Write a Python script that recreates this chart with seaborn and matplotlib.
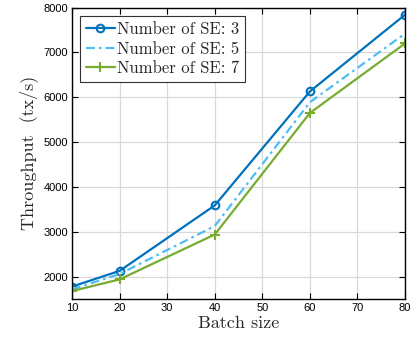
import pandas as pd
import matplotlib
matplotlib.use("Agg")
import matplotlib.pyplot as plt
import seaborn as sns

batch_size = [10, 20, 40, 60, 80]
tput_se3 = [1780, 2130, 3590, 6130, 7840]
tput_se5 = [1720, 2060, 3130, 5890, 7420]
tput_se7 = [1680, 1940, 2940, 5650, 7200]
series_names = ["Number of SE: 3", "Number of SE: 5", "Number of SE: 7"]

sns.set_theme(style="whitegrid")
plt.rcParams["font.family"] = ["Liberation Sans", "DejaVu Sans"]

df = pd.DataFrame({
    "Batch size": batch_size * 3,
    "Throughput": tput_se3 + tput_se5 + tput_se7,
    "Series": [series_names[0]] * 5 + [series_names[1]] * 5 + [series_names[2]] * 5,
})

fig = plt.figure(figsize=(4.12, 3.45), dpi=100)
ax = fig.add_axes([0.175, 0.133, 0.808, 0.845])

styles = {
    series_names[0]: dict(color="#0072BD", ls="-", marker="o", ms=5.5, mfc="none", mew=1.5),
    series_names[1]: dict(color="#4DBEEE", ls=(0, (4, 1.8, 1.2, 1.8)), marker=None),
    series_names[2]: dict(color="#77AC30", ls="-", marker="+", ms=7, mew=1.5),
}

for name in series_names:
    st = styles[name]
    sub = df[df["Series"] == name]
    sns.lineplot(data=sub, x="Batch size", y="Throughput", ax=ax,
                 color=st["color"], linestyle=st["ls"], marker=st.get("marker"),
                 markersize=st.get("ms", 0), markerfacecolor=st.get("mfc", st["color"]),
                 markeredgecolor=st["color"], markeredgewidth=st.get("mew", 1),
                 linewidth=1.6, label=name)

ax.set_xlim(10, 80)
ax.set_ylim(1500, 8000)
ax.set_xticks(range(10, 81, 10))
ax.set_yticks(range(2000, 8001, 1000))
ax.tick_params(axis="both", labelsize=8, direction="in", length=4, width=0.8,
               top=True, right=True, bottom=True, left=True, pad=3, colors="black")
ax.grid(True, color="#d9d9d9", linewidth=0.9)
for sp in ax.spines.values():
    sp.set_color("black")
    sp.set_linewidth(1.0)
ax.set_facecolor("white")

# latex-looking labels via computer modern
ax.set_xlabel("Batch size", fontsize=13, family="cmr10", labelpad=2)
ax.set_ylabel("Throughput  (tx/s)", fontsize=13, family="cmr10", labelpad=4)

leg = ax.legend(loc="upper left", prop={"family": "cmr10", "size": 12},
                frameon=True, fancybox=False, framealpha=1, edgecolor="#333333",
                borderpad=0.35, labelspacing=0.25, handlelength=1.7,
                handletextpad=0.15, borderaxespad=0.5)
leg.get_frame().set_linewidth(0.8)

fig.savefig("out.png", dpi=100)
